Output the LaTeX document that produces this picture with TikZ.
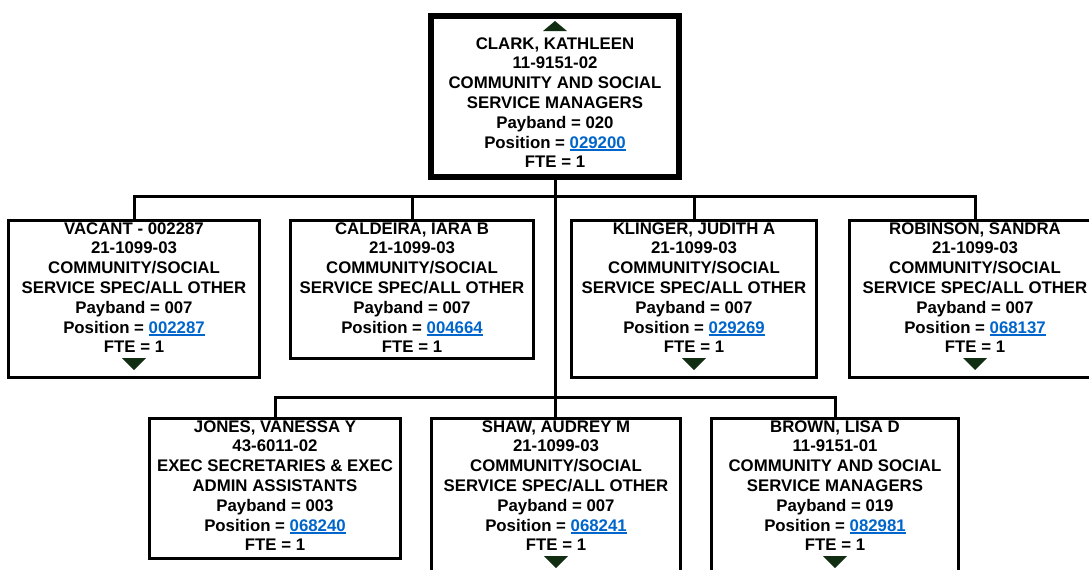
\documentclass[tikz,border=0pt]{standalone}
\usepackage{fontspec}
\setmainfont{Liberation Sans}
\definecolor{linkblue}{RGB}{0,102,204}
\definecolor{tri}{RGB}{18,46,18}
% underlined position link
\newcommand\poslink[1]{\textcolor{linkblue}{\setbox0\hbox{#1}\rlap{\rule[-2.1pt]{\wd0}{1.1pt}}\box0}}
\begin{document}
\begin{tikzpicture}[x=0.75pt,y=-0.75pt,
  box/.style={draw=black, fill=white, line width=2.25pt, rectangle, inner sep=0pt, anchor=north},
  topbox/.style={box, line width=4.5pt},
  info/.style={anchor=north, inner sep=0pt, align=center, font=\fontsize{12.6pt}{14.85pt}\selectfont\bfseries},
  conn/.style={draw=black, line width=2.25pt},
  marker/.style={fill=tri}]
\useasboundingbox (0,0) rectangle (1089,569);
\clip (0,0) rectangle (1089,569);

% bus lines
\coordinate (bus1) at (555,196);
\coordinate (bus2) at (555,397);

% boxes
\node[topbox, minimum width=186pt, minimum height=120.75pt] (clark) at (555,13) {};
\node[box, minimum width=188.25pt, minimum height=117.75pt] (vacant) at (134,218.5) {};
\node[box, minimum width=182.25pt, minimum height=103.5pt] (caldeira) at (412,218.5) {};
\node[box, minimum width=183.75pt, minimum height=117.75pt] (klinger) at (694,218.5) {};
\node[box, minimum width=188.25pt, minimum height=117.75pt] (robinson) at (975,218.5) {};
\node[box, minimum width=188.25pt, minimum height=105pt] (jones) at (275,416.5) {};
\node[box, minimum width=186.75pt, minimum height=117.75pt] (shaw) at (556,416.5) {};
\node[box, minimum width=185.25pt, minimum height=117.75pt] (brown) at (835,416.5) {};

% connectors
\draw[conn] (clark.south) -- (clark.south |- shaw.north);
\draw[conn] (vacant.north) -- (vacant.north |- bus1) -- (robinson.north |- bus1) -- (robinson.north);
\draw[conn] (caldeira.north |- bus1) -- (caldeira.north);
\draw[conn] (klinger.north |- bus1) -- (klinger.north);
\draw[conn] (jones.north) -- (jones.north |- bus2) -- (brown.north |- bus2) -- (brown.north);

% texts
\node[info] (tclark) at (555,37) {CLARK, KATHLEEN\\11-9151-02\\COMMUNITY AND SOCIAL\\SERVICE MANAGERS\\Payband = 020\\Position = \poslink{029200}\\FTE = 1};
\node[info] (tvacant) at (134,222) {VACANT - 002287\\21-1099-03\\COMMUNITY/SOCIAL\\SERVICE SPEC/ALL OTHER\\Payband = 007\\Position = \poslink{002287}\\FTE = 1};
\node[info] (tcaldeira) at (412,222) {CALDEIRA, IARA B\\21-1099-03\\COMMUNITY/SOCIAL\\SERVICE SPEC/ALL OTHER\\Payband = 007\\Position = \poslink{004664}\\FTE = 1};
\node[info] (tklinger) at (694,222) {KLINGER, JUDITH A\\21-1099-03\\COMMUNITY/SOCIAL\\SERVICE SPEC/ALL OTHER\\Payband = 007\\Position = \poslink{029269}\\FTE = 1};
\node[info] (trobinson) at (975,222) {ROBINSON, SANDRA\\21-1099-03\\COMMUNITY/SOCIAL\\SERVICE SPEC/ALL OTHER\\Payband = 007\\Position = \poslink{068137}\\FTE = 1};
\node[info] (tjones) at (275,420) {JONES, VANESSA Y\\43-6011-02\\EXEC SECRETARIES \& EXEC\\ADMIN ASSISTANTS\\Payband = 003\\Position = \poslink{068240}\\FTE = 1};
\node[info] (tshaw) at (556,420) {SHAW, AUDREY M\\21-1099-03\\COMMUNITY/SOCIAL\\SERVICE SPEC/ALL OTHER\\Payband = 007\\Position = \poslink{068241}\\FTE = 1};
\node[info] (tbrown) at (835,420) {BROWN, LISA D\\11-9151-01\\COMMUNITY AND SOCIAL\\SERVICE MANAGERS\\Payband = 019\\Position = \poslink{082981}\\FTE = 1};

% expand / collapse markers
\fill[marker] (543,31) -- (567,31) -- (555,21) -- cycle;
\foreach \x/\y in {134/358, 694/358, 975/358, 556/556, 835/556}
  \fill[marker] (\x-12,\y) -- (\x+12,\y) -- (\x,\y+12) -- cycle;
\end{tikzpicture}
\end{document}
